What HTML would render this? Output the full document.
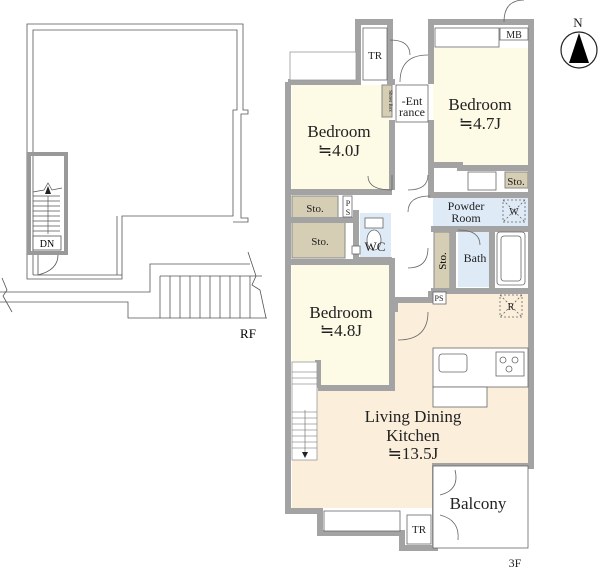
<!DOCTYPE html>
<html><head><meta charset="utf-8"><style>
html,body{margin:0;padding:0;background:#fff}
svg{display:block;font-family:"Liberation Serif",serif}
</style></head><body>
<svg width="600" height="572" viewBox="0 0 600 572" xmlns="http://www.w3.org/2000/svg">
<!-- Roof floor -->
<g fill="none" stroke="#555" stroke-width="0.8">
<polyline points="27,278 27,24 243,24 243,110 248,110 248,114 241,114 241,218 248,218 248,222 233,222"/>
<polyline points="33,275 33,30 237,30 237,110 233,110 233,216 122,216 122,275 33,275"/>
<polyline points="27,278 27,279 122,279 122,275" />
<polyline points="117,216 117,275"/>
<polyline points="0,292 150,292 150,264 250,264"/>
<polyline points="0,302 128,302 128,318 267,318"/>
<line x1="160" y1="276" x2="262" y2="276"/>
<line x1="160" y1="276" x2="160" y2="318"/>
<line x1="170" y1="276" x2="170" y2="318"/><line x1="180" y1="276" x2="180" y2="318"/>
<line x1="190" y1="276" x2="190" y2="318"/><line x1="200" y1="276" x2="200" y2="318"/>
<line x1="210" y1="276" x2="210" y2="318"/><line x1="220" y1="276" x2="220" y2="318"/>
<line x1="230" y1="276" x2="230" y2="318"/><line x1="240" y1="276" x2="240" y2="318"/>
<line x1="250" y1="276" x2="250" y2="318"/>
<polyline points="248,252 256,276 252,285 260,290 266,318"/>
<polyline points="2,278 7,290 3,296 12,312"/>
<path d="M38,275 Q58,270 58,255"/>
<line x1="38" y1="255" x2="38" y2="275"/>
</g>
<rect x="29" y="154" width="37" height="99" fill="none" stroke="#999" stroke-width="4"/>
<rect x="33" y="236" width="28" height="14" fill="#fff" stroke="#555" stroke-width="0.8"/>
<g stroke="#555" stroke-width="0.7">
<line x1="33" y1="196" x2="60" y2="196"/><line x1="33" y1="201" x2="60" y2="201"/><line x1="33" y1="206" x2="60" y2="206"/>
<line x1="33" y1="211" x2="60" y2="211"/><line x1="33" y1="216" x2="60" y2="216"/><line x1="33" y1="221" x2="60" y2="221"/>
<line x1="33" y1="226" x2="60" y2="226"/><line x1="33" y1="231" x2="60" y2="231"/>
<line x1="48" y1="196" x2="48" y2="234"/>
<polyline points="33,192 44,190 48,183 52,190 62,188" fill="none"/>
</g>
<polygon points="48,186 45,194 51,194" fill="#222"/>
<text x="47" y="247" font-size="10" text-anchor="middle">DN</text>
<text x="248" y="338" font-size="13" text-anchor="middle">RF</text>

<!-- Room fills -->
<rect x="292" y="85" width="100" height="106" fill="#fdfbe6"/>
<rect x="433" y="48" width="95" height="117" fill="#fdfbe6"/>
<rect x="292" y="262" width="100" height="124" fill="#fdfbe6"/>
<polygon points="292,386 392,386 392,300 430,300 430,292 528,292 528,464 435,464 435,508 292,508" fill="#fbeedb"/>
<rect x="433" y="195" width="95" height="33" fill="#deeaf6"/>
<rect x="458" y="230" width="32" height="57" fill="#deeaf6"/>
<rect x="360" y="213" width="31" height="45" fill="#deeaf6"/>
<rect x="292" y="196" width="46" height="22" fill="#d6ceb4" stroke="#888" stroke-width="1"/>
<rect x="292" y="222" width="53" height="36" fill="#d6ceb4" stroke="#888" stroke-width="1"/>
<rect x="434" y="232" width="16" height="58" fill="#d6ceb4" stroke="#888" stroke-width="1"/>
<rect x="505" y="172" width="23" height="16" fill="#d6ceb4" stroke="#888" stroke-width="1"/>
<rect x="382" y="85" width="10" height="32" fill="#d6ceb4" stroke="#888" stroke-width="1"/>

<!-- Walls -->
<g fill="none" stroke="#a3a3a3" stroke-width="6">
<polyline points="288,82 288,511 320,511 320,533 402,533 402,548 433,548"/>
<polyline points="288,82 358,82 358,22 390,22 390,82 395,82"/>
<polyline points="431,84 431,22 531,22 531,291 431,291"/>
<polyline points="392,120 392,190"/>
<polyline points="392,258 392,388 318,388"/>
<polyline points="288,192 392,192"/>
<polyline points="288,220 356,220"/>
<polyline points="356,210 356,260 392,260"/>
<polyline points="431,165 460,165 460,168 528,168"/>
<polyline points="431,120 431,195 528,195"/>
<polyline points="431,229 531,229"/>
<polyline points="453,229 453,291"/>
<polyline points="492,229 492,291"/>
<polyline points="431,291 431,300 395,300 395,312"/>
<polyline points="531,291 531,466 435,466 435,548 402,548"/>
<polyline points="318,360 318,388"/>
<polyline points="288,262 392,262"/>
</g>
<g fill="none" stroke="#666" stroke-width="0.8">
<rect x="290" y="52" width="66" height="28" fill="#fff" stroke="#999"/>
<rect x="363" y="28" width="24" height="52" fill="#fff"/>
<rect x="396" y="85" width="32" height="37" fill="#fff"/>
<rect x="435" y="28" width="64" height="19" fill="#fff"/>
<rect x="500" y="28" width="28" height="12" fill="#fff"/>
<rect x="343" y="196" width="9" height="21" fill="#fff"/>
<rect x="497" y="232" width="28" height="53" rx="3" fill="#fff"/>
<rect x="501" y="236" width="20" height="45" rx="3"/>
<rect x="468" y="172" width="28" height="18" fill="#fff"/>
<rect x="503" y="200" width="22" height="22" stroke-dasharray="2,2"/>
<line x1="503" y1="200" x2="525" y2="222" stroke-dasharray="2,2"/><line x1="525" y1="200" x2="503" y2="222" stroke-dasharray="2,2"/>
<rect x="500" y="295" width="22" height="22" stroke-dasharray="2,2"/>
<line x1="500" y1="295" x2="522" y2="317" stroke-dasharray="2,2"/><line x1="522" y1="295" x2="500" y2="317" stroke-dasharray="2,2"/>
<rect x="433" y="348" width="95" height="39" fill="#fff"/>
<rect x="433" y="387" width="54" height="20" fill="#fff"/>
<rect x="439" y="354" width="28" height="18" rx="3"/>
<rect x="496" y="352" width="28" height="24"/>
<circle cx="503" cy="360" r="3"/><circle cx="515" cy="360" r="3"/><circle cx="509" cy="369" r="3"/>
<rect x="433" y="466" width="95" height="82" fill="#fff"/>
<rect x="407" y="515" width="24" height="29" fill="#fff"/>
<rect x="324" y="511" width="76" height="20" fill="#fff"/>
<rect x="365" y="218" width="18" height="10" fill="#fff"/>
<ellipse cx="374" cy="240" rx="7" ry="10" fill="#fff"/>
<rect x="352" y="246" width="8" height="8" fill="#fff"/>
<rect x="433" y="292" width="13" height="12" fill="#fff"/>
<path d="M392,190 Q368,190 368,176 M392,175 L392,190"/>
<path d="M408,190 Q428,190 428,175"/>
<path d="M408,212 Q408,196 430,196"/>
<path d="M408,268 Q428,268 428,248"/>
<path d="M398,340 Q428,340 428,312"/>
<path d="M390,40 Q410,40 410,55"/>
<path d="M400,82 Q400,55 428,55"/>
<path d="M504,22 Q504,0 524,0"/>
<path d="M458,230 Q480,230 480,245"/>
<path d="M455,470 Q460,490 440,495"/>
<path d="M440,515 Q460,520 458,540"/>
<rect x="292" y="362" width="25" height="98" fill="#fff" stroke="#999"/>
</g>
<g stroke="#666" stroke-width="0.6">
<line x1="292" y1="372" x2="317" y2="372"/><line x1="292" y1="378" x2="317" y2="378"/><line x1="292" y1="384" x2="317" y2="384"/>
<line x1="292" y1="412" x2="317" y2="412"/><line x1="292" y1="418" x2="317" y2="418"/><line x1="292" y1="424" x2="317" y2="424"/>
<line x1="292" y1="430" x2="317" y2="430"/><line x1="292" y1="436" x2="317" y2="436"/><line x1="292" y1="442" x2="317" y2="442"/>
<line x1="292" y1="448" x2="317" y2="448"/><line x1="305" y1="410" x2="305" y2="455"/>
</g>
<polygon points="305,458 302,452 308,452" fill="#222"/>

<!-- Labels -->
<g fill="#222" text-anchor="middle">
<text x="339" y="137" font-size="17">Bedroom</text>
<text x="339" y="156" font-size="17">≒4.0J</text>
<text x="480" y="110" font-size="17">Bedroom</text>
<text x="480" y="129" font-size="17">≒4.7J</text>
<text x="341" y="318" font-size="17">Bedroom</text>
<text x="341" y="336" font-size="17">≒4.8J</text>
<text x="413" y="422" font-size="17">Living Dining</text>
<text x="413" y="441" font-size="17">Kitchen</text>
<text x="413" y="459" font-size="17">≒13.5J</text>
<text x="478" y="509" font-size="17">Balcony</text>
<text x="466" y="210" font-size="12">Powder</text>
<text x="466" y="222" font-size="12">Room</text>
<text x="475" y="262" font-size="12">Bath</text>
<text x="375" y="251" font-size="13">WC</text>
<text x="315" y="212" font-size="11">Sto.</text>
<text x="320" y="245" font-size="11">Sto.</text>
<text x="516" y="185" font-size="11">Sto.</text>
<text x="412" y="105" font-size="12">-Ent</text>
<text x="412" y="116" font-size="12">rance</text>
<text x="375" y="59" font-size="11">TR</text>
<text x="419" y="533" font-size="11">TR</text>
<text x="514" y="38" font-size="10">MB</text>
<text x="514" y="215" font-size="10">W</text>
<text x="511" y="310" font-size="10">R</text>
<text x="348" y="206" font-size="8">P</text>
<text x="348" y="215" font-size="8">S</text>
<text x="439" y="301" font-size="8">PS</text>
<text x="515" y="567" font-size="12">3F</text>
<text x="578" y="27" font-size="13">N</text>
</g>
<text transform="translate(446,261) rotate(-90)" font-size="11" text-anchor="middle">Sto.</text>
<text transform="translate(389,101) rotate(90)" font-size="5" text-anchor="middle">Shoes Box</text>
<circle cx="579" cy="50" r="18" fill="none" stroke="#222" stroke-width="1.2"/>
<polygon points="579,33 569,63 589,63" fill="#000"/>
</svg>
</body></html>
